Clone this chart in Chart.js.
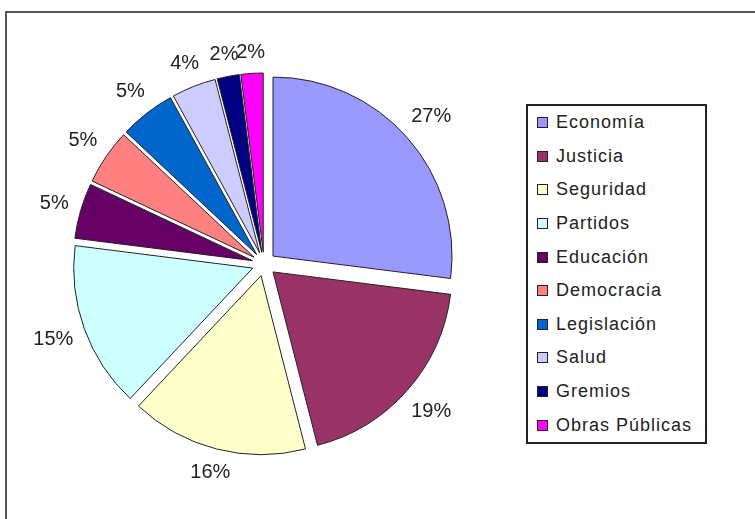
<!DOCTYPE html>
<html lang="es">
<head>
<meta charset="utf-8">
<title>Temas</title>
<script src="https://cdn.jsdelivr.net/npm/chart.js@4/dist/chart.umd.min.js"></script>
<style>
  html, body { margin: 0; padding: 0; background: #fff; }
  #marco { position: relative; width: 755px; height: 519px; overflow: hidden; }
  #marco::before {
    content: ""; position: absolute; left: 5px; top: 11px; right: -10px; bottom: -10px;
    border-left: 2px solid #555; border-top: 2px solid #555;
  }
  #grafico { position: absolute; left: 0; top: 0; }
  #leyenda {
    position: absolute; left: 526px; top: 104px; width: 177px; height: 336px;
    border: 2px solid #222; background: #fff;
    font-family: "Liberation Sans", Arial, sans-serif; font-size: 18px; color: #222;
    letter-spacing: 1px;
  }
  #leyenda .fila { height: 33.6px; display: flex; align-items: center; padding-left: 9px; }
  #leyenda .caja {
    width: 9px; height: 9px; border: 1px solid #222; margin-right: 8px; flex: none;
  }
</style>
</head>
<body>
<div id="marco">
  <canvas id="grafico" width="755" height="519"></canvas>
  <div id="leyenda"></div>
</div>
<script>
// ---- Datos ----
const temas = ["Economía", "Justicia", "Seguridad", "Partidos", "Educación",
               "Democracia", "Legislación", "Salud", "Gremios", "Obras Públicas"];
const porcentajes = [27, 19, 16, 15, 5, 5, 5, 4, 2, 2];
const colores = ["#9999FF", "#993366", "#FFFFCC", "#CCFFFF", "#660066",
                 "#FF8080", "#0066CC", "#CCCCFF", "#000080", "#FF00FF"];

// cuánto se separa cada porción del centro (px)
const SEPARACION = 12;

// ---- Leyenda ----
function armarLeyenda() {
  const caja = document.getElementById("leyenda");
  temas.forEach((t, i) => {
    caja.innerHTML += `
      <div class="fila">
        <span class="caja" style="background:${colores[i]}"></span>
        <span>${t}</span>
      </div>`;
  });
}

// ---- Porciones separadas: se corre cada arco sobre su ángulo medio ----
const separarPorciones = {
  id: "separarPorciones",
  beforeDatasetDraw(chart, args) {
    const ctx = chart.ctx;
    args.meta.data.forEach(arc => {
      const medio = (arc.startAngle + arc.endAngle) / 2;
      ctx.save();
      ctx.translate(Math.cos(medio) * SEPARACION, Math.sin(medio) * SEPARACION);
      arc.draw(ctx);
      ctx.restore();
    });
    return false;
  }
};

// ---- Etiquetas de porcentaje fuera de cada porción ----
const etiquetasPorcentaje = {
  id: "etiquetasPorcentaje",
  afterDatasetsDraw(chart) {
    const ctx = chart.ctx;
    const meta = chart.getDatasetMeta(0);
    ctx.save();
    ctx.font = '20px "Liberation Sans", Arial, sans-serif';
    ctx.fillStyle = "#222";
    ctx.textAlign = "center";
    ctx.textBaseline = "middle";
    meta.data.forEach((arc, i) => {
      const p = arc.getProps(["x", "y", "startAngle", "endAngle", "outerRadius"], true);
      const medio = (p.startAngle + p.endAngle) / 2;
      const texto = porcentajes[i] + "%";
      const ancho = ctx.measureText(texto).width;
      const cos = Math.cos(medio), sin = Math.sin(medio);
      const mitad = ancho / 2 * Math.abs(cos) + 9 * Math.abs(sin);
      const d = p.outerRadius + SEPARACION + 11 + mitad;
      ctx.fillText(texto, p.x + cos * d, p.y + sin * d);
    });
    ctx.restore();
  }
};

// ---- Gráfico ----
function dibujarGrafico() {
  new Chart(document.getElementById("grafico"), {
    type: "pie",
    data: {
      labels: temas,
      datasets: [{
        data: porcentajes,
        backgroundColor: colores,
        borderColor: "#222",
        borderWidth: 1
      }]
    },
    options: {
      responsive: false,
      animation: false,
      devicePixelRatio: 1,
      layout: { padding: { left: 84.5, top: 84.5, right: 311.5, bottom: 75.5 } },
      plugins: {
        legend: { display: false },
        tooltip: { enabled: false }
      }
    },
    plugins: [separarPorciones, etiquetasPorcentaje]
  });
}

armarLeyenda();
dibujarGrafico();
</script>
</body>
</html>
